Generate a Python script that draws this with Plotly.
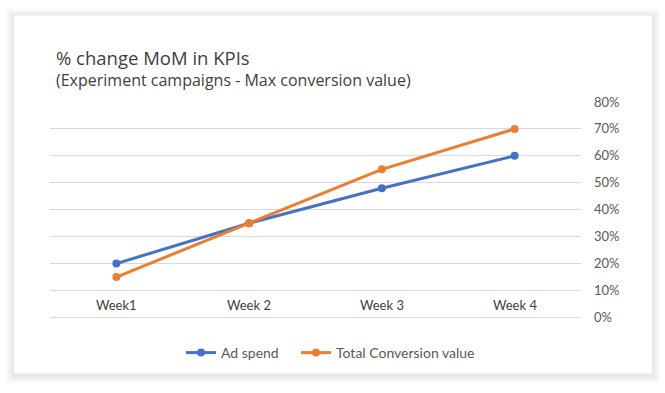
import plotly.graph_objects as go

weeks = ["Week1", "Week 2", "Week 3", "Week 4"]
ad_spend = [0.20, 0.35, 0.48, 0.60]
total_conv = [0.15, 0.35, 0.55, 0.70]
y_ticks = [0, 0.1, 0.2, 0.3, 0.4, 0.5, 0.6, 0.7, 0.8]

W, H = 665, 393
L, R, T, B = 50, 581, 102, 321  # plot area in pixels

def px(x):
    return (x - L) / (R - L)

def py(y):
    return (B - y) / (B - T)

fig = go.Figure()
fig.add_trace(go.Scatter(x=weeks, y=ad_spend, name="Ad spend", mode="lines+markers",
                         line=dict(color="#4472C4", width=3), marker=dict(size=8, color="#4472C4"),
                         legend="legend"))
fig.add_trace(go.Scatter(x=weeks, y=total_conv, name="Total Conversion value", mode="lines+markers",
                         line=dict(color="#ED7D31", width=3), marker=dict(size=8, color="#ED7D31"),
                         legend="legend2"))

shapes = []
# soft card shadow
for i in range(8, 0, -1):
    shapes.append(dict(type="rect", xref="paper", yref="paper", layer="below",
                       x0=px(14 - i), x1=px(652 + i), y0=py(380 + i), y1=py(14 - i + 1),
                       fillcolor="rgba(0,0,0,0.012)", line=dict(width=0)))
shapes.append(dict(type="rect", xref="paper", yref="paper", layer="below",
                   x0=px(14), x1=px(652), y0=py(378), y1=py(14),
                   fillcolor="white", line=dict(width=0)))

annotations = [
    dict(text="% change MoM in KPIs", xref="paper", yref="paper", x=px(54), y=py(57),
         xanchor="left", yanchor="middle", showarrow=False,
         font=dict(family="Open Sans", size=18.5, color="#404040")),
    dict(text="(Experiment campaigns - Max conversion value)", xref="paper", yref="paper",
         x=px(54), y=py(80), xanchor="left", yanchor="middle", showarrow=False,
         font=dict(family="Open Sans", size=16, color="#404040")),
]
for w in weeks:
    annotations.append(dict(text=w, x=w, y=0.047, xref="x", yref="y", showarrow=False,
                            xanchor="center", yanchor="middle",
                            font=dict(family="Lato", size=13, color="#404040")))

legend_style = dict(orientation="h", xref="container", yref="container", xanchor="left",
                    y=(H - 353) / H, yanchor="middle",
                    font=dict(family="Lato", size=14, color="#595959"),
                    bgcolor="rgba(0,0,0,0)", itemwidth=30)

fig.update_layout(
    width=W, height=H,
    margin=dict(l=L, r=W - R, t=T, b=H - B),
    paper_bgcolor="white", plot_bgcolor="rgba(0,0,0,0)",
    shapes=shapes, annotations=annotations,
    showlegend=True,
    legend=dict(x=181 / W, **legend_style),
    legend2=dict(x=296 / W, **legend_style),
    xaxis=dict(range=[-0.5, 3.5], showticklabels=False, showgrid=False, zeroline=False,
               showline=False, ticks=""),
    yaxis=dict(range=[0, 0.8], side="right", tickvals=y_ticks, tickformat=".0%",
               showgrid=True, gridcolor="#d9d9d9", gridwidth=1,
               zeroline=True, zerolinecolor="#d9d9d9", zerolinewidth=1,
               showline=False, ticks="", ticklabelstandoff=12,
               tickfont=dict(family="Lato", size=13, color="#595959")),
)

fig.write_html("out.html", config={"displayModeBar": False},
               post_script="document.body.style.margin='0px';document.body.style.overflow='hidden';")
